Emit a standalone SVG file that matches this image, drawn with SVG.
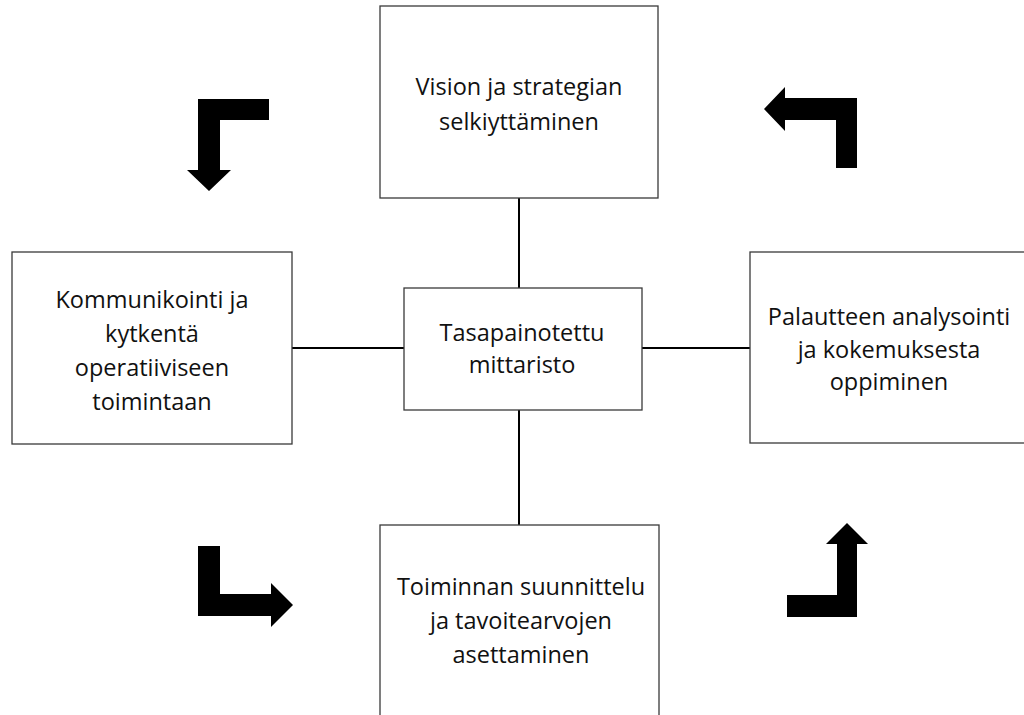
<svg xmlns="http://www.w3.org/2000/svg" width="1024" height="715" viewBox="0 0 1024 715">
  <style>
    .box { fill: #ffffff; stroke: #3a3a3a; stroke-width: 1.3; }
    .link { stroke: #000000; stroke-width: 2; fill: none; }
    .arrow { fill: #000000; stroke: none; }
    text { font-family: "Open Sans", "Noto Sans", sans-serif; font-size: 23.5px; fill: #111111; text-anchor: middle; }
  </style>
  <rect width="1024" height="715" fill="#ffffff"/>

  <!-- connectors between the hub and the four stages -->
  <g id="connectors">
    <line class="link" x1="519" y1="198" x2="519" y2="288"/>
    <line class="link" x1="292" y1="348" x2="404" y2="348"/>
    <line class="link" x1="642" y1="348" x2="750" y2="348"/>
    <line class="link" x1="519" y1="410" x2="519" y2="525"/>
  </g>

  <!-- cycle direction arrows -->
  <g id="cycle-arrows">
    <polygon class="arrow" points="198,99 269,99 269,120 220,120 220,170 231,170 209,191 187,170 198,170"/>
    <polygon class="arrow" points="857,98 857,168 836,168 836,120 785,120 785,131 764,109 785,87 785,98"/>
    <polygon class="arrow" points="198,546 220,546 220,594 271,594 271,583 293,605 271,627 271,616 198,616"/>
    <polygon class="arrow" points="787,617 857,617 857,544 868,544 847,523 826,544 837,544 837,595 787,595"/>
  </g>

  <g id="node-vision">
    <rect class="box" x="380" y="6" width="278" height="192"/>
    <text x="519" y="95">Vision ja strategian</text>
    <text x="519" y="130">selkiyttäminen</text>
  </g>

  <g id="node-communication">
    <rect class="box" x="12" y="252" width="280" height="192"/>
    <text x="152" y="308">Kommunikointi ja</text>
    <text x="152" y="342">kytkentä</text>
    <text x="152" y="376">operatiiviseen</text>
    <text x="152" y="410">toimintaan</text>
  </g>

  <g id="node-scorecard">
    <rect class="box" x="404" y="288" width="238" height="122"/>
    <text x="522" y="341">Tasapainotettu</text>
    <text x="522" y="373">mittaristo</text>
  </g>

  <g id="node-feedback">
    <rect class="box" x="750" y="252" width="280" height="191"/>
    <text x="889" y="325">Palautteen analysointi</text>
    <text x="889" y="358">ja kokemuksesta</text>
    <text x="889" y="390">oppiminen</text>
  </g>

  <g id="node-planning">
    <rect class="box" x="380" y="525" width="279" height="200"/>
    <text x="521" y="595">Toiminnan suunnittelu</text>
    <text x="521" y="629">ja tavoitearvojen</text>
    <text x="521" y="663">asettaminen</text>
  </g>
</svg>
